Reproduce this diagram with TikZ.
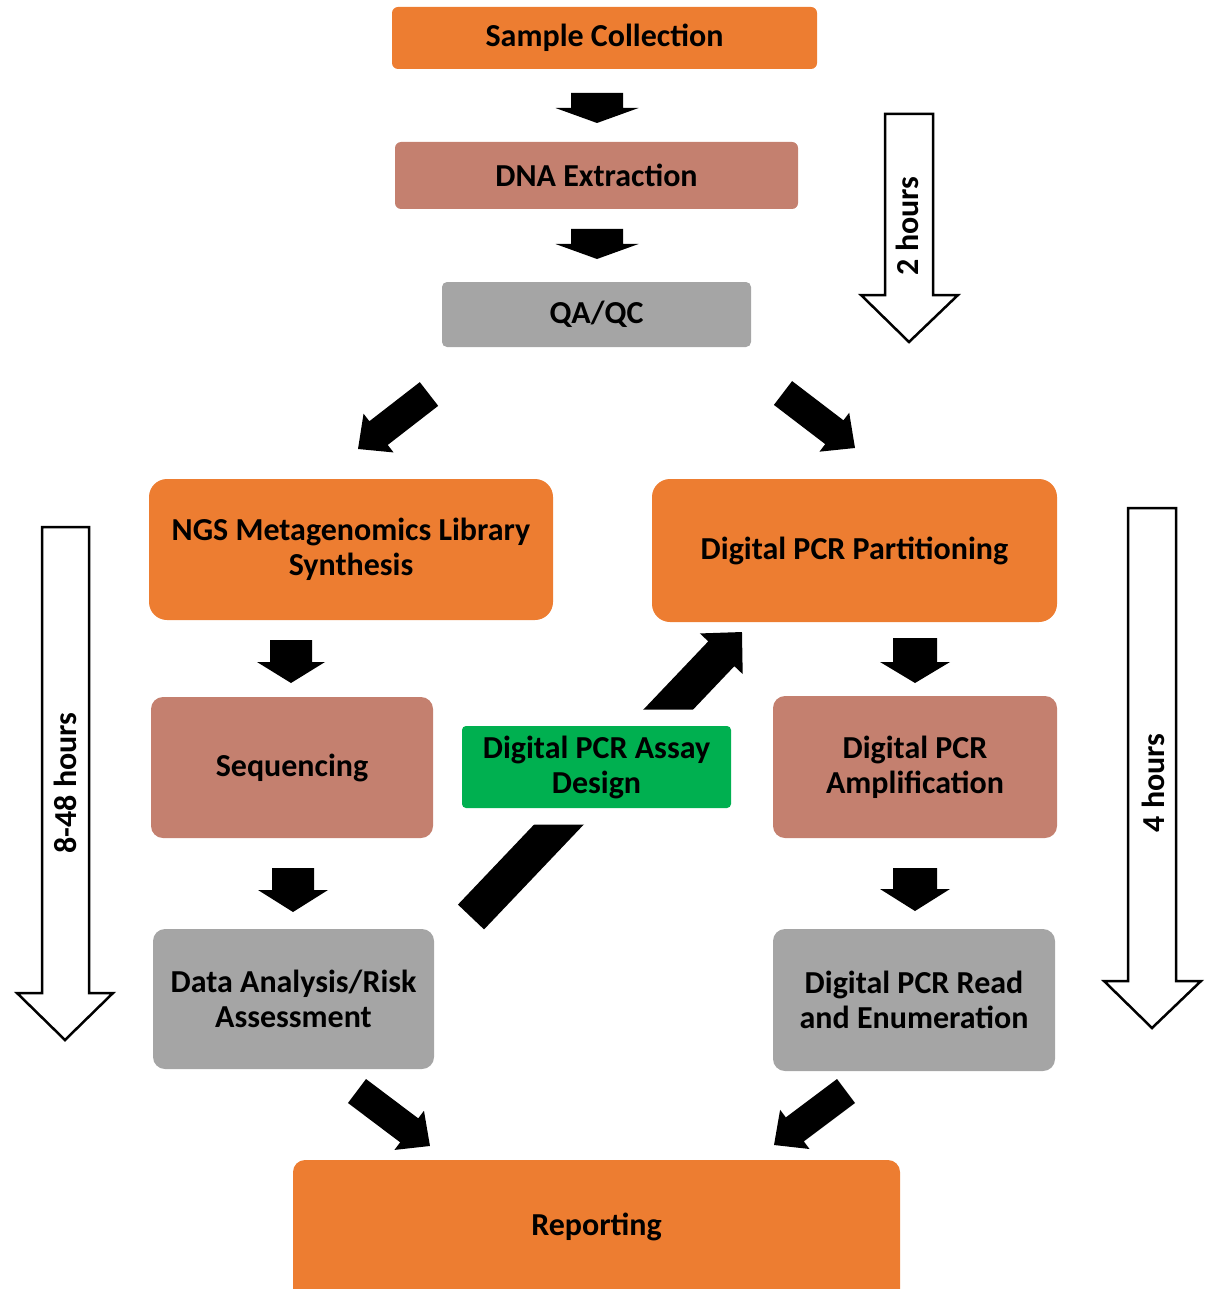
\documentclass[tikz,border=0pt]{standalone}
\usepackage{fontspec}
\setmainfont{Carlito}
\usetikzlibrary{calc}
\definecolor{corange}{HTML}{ED7D31}
\definecolor{cbrown}{HTML}{C4806F}
\definecolor{cgray}{HTML}{A5A5A5}
\definecolor{cgreen}{HTML}{00B050}
% block arrow: tail, tip, shaft width, head width, head length (numbers in px=pt)
\newcommand\blockarrow[5]{%
  \fill[black] let \p1=(#1), \p2=(#2), \n1={atan2(\y2-\y1,\x2-\x1)}, \n2={veclen(\x2-\x1,\y2-\y1)} in
   [shift={(\p1)}, rotate=\n1]
   (0pt,{-#3/2*1pt}) -- ({\n2-#5*1pt},{-#3/2*1pt}) -- ({\n2-#5*1pt},{-#4/2*1pt}) -- (\n2,0pt)
   -- ({\n2-#5*1pt},{#4/2*1pt}) -- ({\n2-#5*1pt},{#3/2*1pt}) -- (0pt,{#3/2*1pt}) -- cycle;}
\begin{document}
\begin{tikzpicture}[x=1pt,y=-1pt,
  flowbox/.style={rectangle, inner sep=0pt, align=center, text=black,
    font=\fontsize{32}{35}\selectfont\bfseries},
  timearrow/.style={draw=black, fill=white, line width=2.5pt, line join=miter},
  timetext/.style={rotate=90, font=\fontsize{32}{35}\selectfont\bfseries}]
\useasboundingbox (0,0) rectangle (1205,1289);

% boxes
\node[flowbox, fill=corange, rounded corners=6pt, minimum width=425pt, minimum height=62pt] (sample) at (604.5,38) {Sample Collection};
\node[flowbox, fill=cbrown, rounded corners=6pt, minimum width=403pt, minimum height=67pt] (dna) at (596.5,175.5) {DNA Extraction};
\node[flowbox, fill=cgray, rounded corners=5pt, minimum width=309pt, minimum height=65pt] (qaqc) at (596.5,314.5) {QA/QC};
\node[flowbox, fill=corange, rounded corners=18pt, minimum width=404pt, minimum height=141pt] (ngs) at (351,549.5) {NGS Metagenomics Library\\Synthesis};
\node[flowbox, fill=corange, rounded corners=18pt, minimum width=405pt, minimum height=143pt] (part) at (854.5,550.5) {Digital PCR Partitioning};
\node[flowbox, fill=cbrown, rounded corners=12pt, minimum width=282pt, minimum height=141pt] (seq) at (292,767.5) {Sequencing};
\node[flowbox, fill=cbrown, rounded corners=12pt, minimum width=284pt, minimum height=142pt] (amp) at (915,767) {Digital PCR\\Amplification};
\node[flowbox, fill=cgray, rounded corners=12pt, minimum width=281pt, minimum height=140pt] (data) at (293.5,999) {Data Analysis/Risk\\Assessment};
\node[flowbox, fill=cgray, rounded corners=12pt, minimum width=282pt, minimum height=142pt] (read) at (914,1000) {Digital PCR Read\\and Enumeration};
\node[flowbox, fill=corange, rounded corners=12pt, minimum width=607pt, minimum height=150pt,
  label={[flowbox, yshift=8pt]center:Reporting}] (report) at (596.5,1235) {};

% arrow end points
\coordinate (a1t) at (597,93);   \coordinate (a1h) at (597,123);
\coordinate (a2t) at (597,229);  \coordinate (a2h) at (597,259);
\coordinate (a3t) at (429,394);  \coordinate (a3h) at (358,449);
\coordinate (a4t) at (783,393);  \coordinate (a4h) at (855,448);
\coordinate (a5t) at (291,640);  \coordinate (a5h) at (291,683);
\coordinate (a6t) at (293,868);  \coordinate (a6h) at (293,912);
\coordinate (a7t) at (915,638);  \coordinate (a7h) at (915,683);
\coordinate (a8t) at (915,868);  \coordinate (a8h) at (915,911);
\coordinate (a9t) at (357,1091); \coordinate (a9h) at (430,1146);
\coordinate (a10t) at (846,1091); \coordinate (a10h) at (774,1145);
\coordinate (a11t) at (471,917); \coordinate (a11h) at (742,632);

\blockarrow{a1t}{a1h}{52}{83}{15}
\blockarrow{a2t}{a2h}{52}{83}{15}
\blockarrow{a3t}{a3h}{30}{49}{26}
\blockarrow{a4t}{a4h}{30}{49}{26}
\blockarrow{a5t}{a5h}{42}{68}{21}
\blockarrow{a6t}{a6h}{42}{70}{22}
\blockarrow{a7t}{a7h}{44}{70}{21}
\blockarrow{a8t}{a8h}{44}{70}{22}
\blockarrow{a9t}{a9h}{30}{49}{26}
\blockarrow{a10t}{a10h}{30}{49}{26}
\blockarrow{a11t}{a11h}{36}{59}{30}

% assay design box over the long arrow, with white margin
\node[flowbox, fill=cgreen, rounded corners=4pt, minimum width=269pt, minimum height=82pt,
  preaction={draw=white, line width=33pt}] (assay) at (596.5,767) {Digital PCR Assay\\Design};

% time arrows
\draw[timearrow] (885,114) -- (933,114) -- (933,295) -- (958,295) -- (909,342) -- (861,295) -- (885,295) -- cycle;
\node[timetext] (t2) at (907,226) {2 hours};
\draw[timearrow] (42,527) -- (89,527) -- (89,993) -- (113,993) -- (65,1040) -- (17,993) -- (42,993) -- cycle;
\node[timetext] (t848) at (65,783) {8-48 hours};
\draw[timearrow] (1128,508) -- (1176,508) -- (1176,981) -- (1201,981) -- (1152,1028) -- (1104,981) -- (1128,981) -- cycle;
\node[timetext] (t4) at (1153,783) {4 hours};
\end{tikzpicture}
\end{document}
